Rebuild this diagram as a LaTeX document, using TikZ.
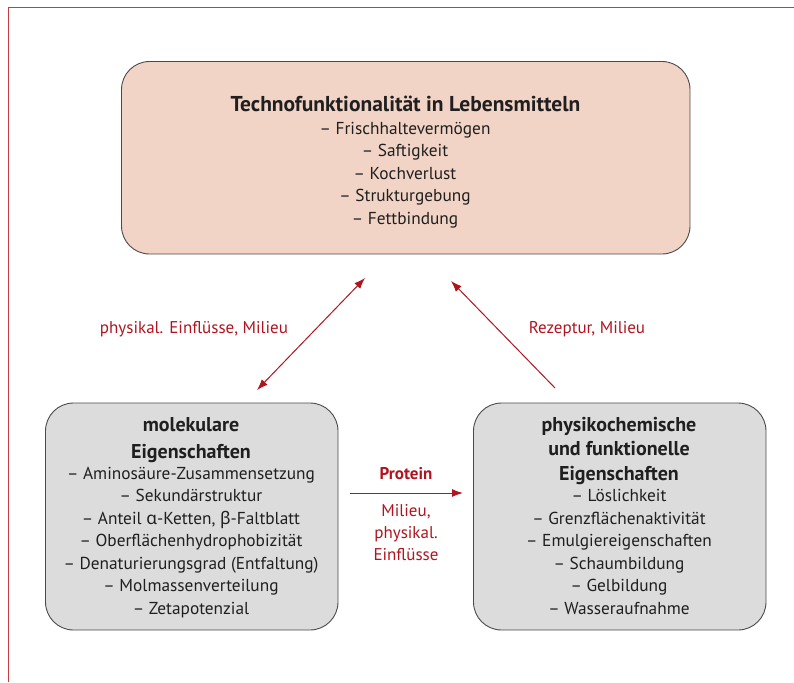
\documentclass[tikz,border=0pt]{standalone}
\usepackage{fontspec}
\setmainfont{PT Sans}
\newfontfamily\grk{Noto Sans}
\usetikzlibrary{arrows.meta}
\definecolor{framered}{HTML}{C83A44}
\definecolor{arrred}{HTML}{B0141F}
\definecolor{topfill}{HTML}{F2D4C6}
\definecolor{grayfill}{HTML}{DCDCDD}
\definecolor{edge}{HTML}{4A4A4A}
\begin{document}
\begin{tikzpicture}[x=1pt,y=-1pt,
  boxstyle/.style={draw=edge, line width=0.9pt, rounded corners=28pt},
  txt/.style={font=\fontsize{17.3}{22.5}\selectfont, anchor=base, inner sep=0pt, text=black!88},
  ttl/.style={font=\fontsize{20}{25}\selectfont\bfseries, anchor=base, inner sep=0pt, text=black!88},
  lbl/.style={font=\fontsize{17}{22.5}\selectfont, text=arrred, anchor=base, inner sep=0pt},
  conn/.style={draw=arrred, line width=1pt, -{Latex[length=11pt,width=8pt]}}
]
\useasboundingbox (0,0) rectangle (794,682);
% frame
\draw[framered, line width=1.3pt] (794,7.5) -- (8.5,7.5) -- (8.5,682);

% boxes
\path[boxstyle, fill=topfill] (121.5,61.5) rectangle (690,254);
\path[boxstyle, fill=grayfill] (45.5,403) rectangle (338,630);
\path[boxstyle, fill=grayfill] (473.5,403) rectangle (766,630);

% top box text
\node[ttl, font=\fontsize{21.5}{25}\selectfont\bfseries] (ttop) at (405.5,111) {Technofunktionalität in Lebensmitteln};
\foreach \t [count=\i] in {Frischhaltevermögen,Saftigkeit,Kochverlust,Strukturgebung,Fettbindung}
  \node[txt] (top\i) at (405,{111.5+22.6*\i}) {– \t};

% left box text
\node[ttl] (tleft1) at (191,431) {molekulare};
\node[ttl] (tleft2) at (191,458) {Eigenschaften};
\foreach \t [count=\i] in {Aminosäure-Zusammensetzung,Sekundärstruktur,{Anteil {\grk α}-Ketten, {\grk β}-Faltblatt},Oberflächenhydrophobizität,Denaturierungsgrad (Entfaltung),Molmassenverteilung,Zetapotenzial}
  \node[txt] (left\i) at (191,{456.5+22.5*\i}) {– \t};

% right box text
\node[ttl] (tright1) at (619,431) {physikochemische};
\node[ttl] (tright2) at (619,455.5) {und funktionelle};
\node[ttl] (tright3) at (619,480) {Eigenschaften};
\foreach \t [count=\i] in {Löslichkeit,Grenzflächenaktivität,Emulgiereigenschaften,Schaumbildung,Gelbildung,Wasseraufnahme}
  \node[txt] (right\i) at (619,{479+22.5*\i}) {– \t};

% connectors
\coordinate (a1) at (257,390);
\coordinate (a2) at (365,278);
\coordinate (b1) at (555,388);
\coordinate (b2) at (451,281);
\coordinate (c1) at (350,493);
\coordinate (c2) at (463,493);
\draw[conn, {Latex[length=11pt,width=8pt]}-{Latex[length=11pt,width=8pt]}] (a1) -- (a2);
\draw[conn] (b1) -- (b2);
\draw[conn] (c1) -- (c2);

% labels
\node[lbl] (l1) at (194,333) {physikal. Einflüsse, Milieu};
\node[lbl] (l2) at (587,333) {Rezeptur, Milieu};
\node[lbl, font=\fontsize{17}{22.5}\selectfont\bfseries] (l3) at (406,479) {Protein};
\node[lbl] (l4a) at (406,516) {Milieu,};
\node[lbl] (l4b) at (406,538) {physikal.};
\node[lbl] (l4c) at (406,560) {Einflüsse};
\end{tikzpicture}
\end{document}
